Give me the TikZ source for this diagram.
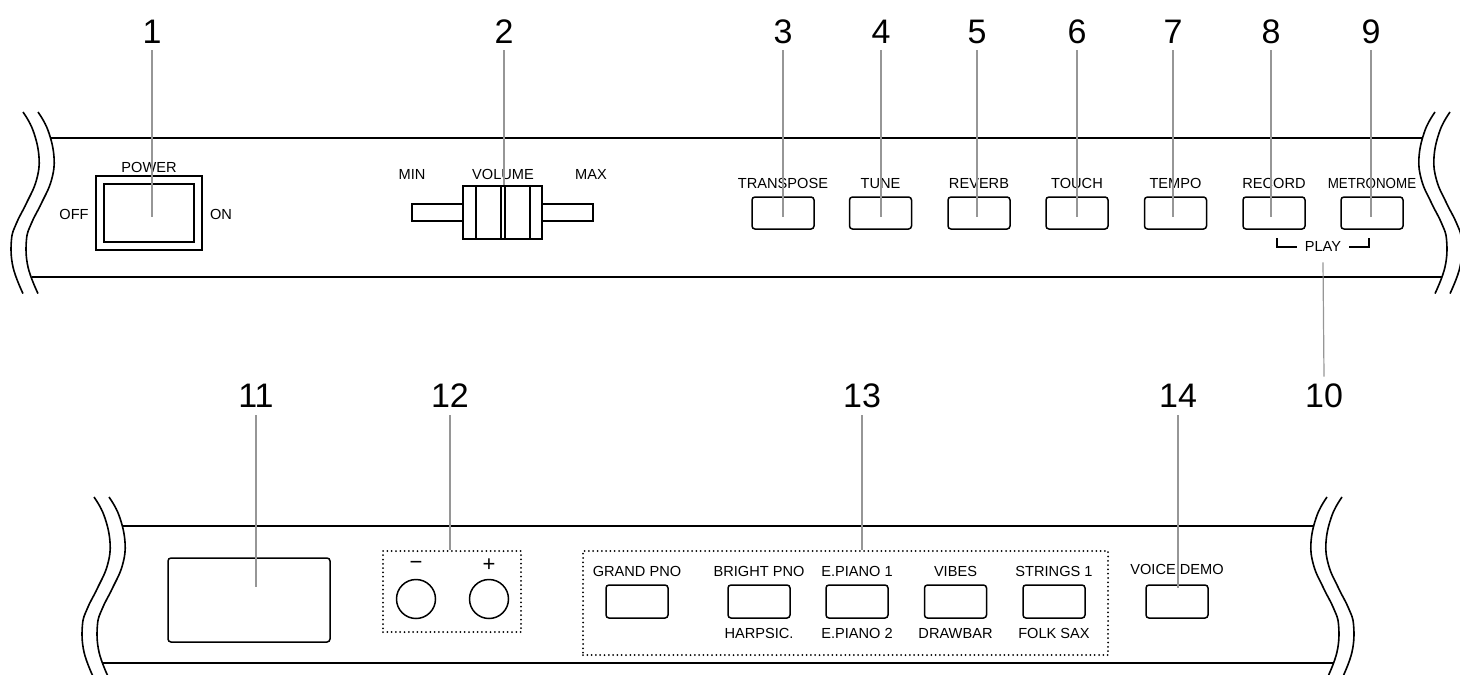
\documentclass[tikz,border=0pt]{standalone}
\usepackage{fontspec}
\setmainfont{Liberation Sans}
\usetikzlibrary{calc}
\definecolor{leadgray}{RGB}{150,150,150}
\begin{document}
\begin{tikzpicture}[x=1pt,y=-1pt,
  panel/.style={line width=1.9pt},
  wavestyle/.style={line width=1.6pt},
  btn/.style={draw, line width=1.5pt, rounded corners=3pt, minimum width=62pt, minimum height=33pt, inner sep=0pt},
  sqbox/.style={draw, line width=1.5pt, inner sep=0pt},
  lbl/.style={font=\fontsize{14.6}{16}\selectfont, inner sep=0pt, text height=10.4pt, text depth=0pt},
  pm/.style={font=\fontsize{22}{24}\selectfont, inner sep=0pt},
  num/.style={font=\fontsize{34}{38}\selectfont, inner sep=0pt, text height=24.3pt, text depth=0pt},
  lead/.style={draw=leadgray, line width=1.2pt},
  dotbox/.style={draw, line width=2pt, dash pattern=on 0pt off 4.3pt, line cap=round, inner sep=0pt},
  wavepair/.pic={
    \draw[wavestyle] plot[smooth,tension=0.7] coordinates {(0,0) (10,18.3) (16,45) (13.4,68.3) (3.4,91.3) (-6.6,111.3) (-11.6,128.3) (-10,155) (0,181.6)};
    \draw[wavestyle,shift={(15,0)}] plot[smooth,tension=0.7] coordinates {(0,0) (10,18.3) (16,45) (13.4,68.3) (3.4,91.3) (-6.6,111.3) (-11.6,128.3) (-10,155) (0,181.6)};
  }]
\useasboundingbox (0,0) rectangle (1460,675);

% ---------- top panel ----------
\pic (wTL) at (23,112) {wavepair};
\pic[xscale=-1] (wTR) at (1450,112) {wavepair};
\draw[panel] (50.5,138) -- (1422.5,138);
\draw[panel] (31.5,277) -- (1441.5,277);

% power switch
\node[sqbox, minimum width=106pt, minimum height=74pt] (pwr) at (149,213) {};
\node[sqbox, minimum width=90pt, minimum height=58pt] (pwrin) at (149,213) {};
\node[lbl] (lpower) at (149,167) {POWER};
\node[lbl] (loff) at (74,214) {OFF};
\node[lbl] (lon) at (221,214) {ON};

% volume slider
\node[sqbox, minimum width=51pt, minimum height=17pt] (trkL) at (437.5,212.5) {};
\node[sqbox, minimum width=51pt, minimum height=17pt] (trkR) at (567.5,212.5) {};
\node[sqbox, fill=white, minimum width=79pt, minimum height=53pt] (vol) at (502.5,212.5) {};
\node[sqbox, minimum width=54pt, minimum height=53pt] (volin) at (503,212.5) {};
\node[sqbox, minimum width=4pt, minimum height=53pt] (volmid) at (503,212.5) {};
\node[lbl] (lmin) at (412,174) {MIN};
\node[lbl] (lvol) at (503,174) {VOLUME};
\node[lbl] (lmax) at (591,174) {MAX};

% buttons
\node[btn, minimum height=32pt] (b3) at (783,213) {};
\node[btn, minimum height=32pt] (b4) at (880.5,213) {};
\node[btn, minimum height=32pt] (b5) at (979,213) {};
\node[btn, minimum height=32pt] (b6) at (1077,213) {};
\node[btn, minimum height=32pt] (b7) at (1175.5,213) {};
\node[btn, minimum height=32pt] (b8) at (1274,213) {};
\node[btn, minimum height=32pt] (b9) at (1372,213) {};
\node[lbl] (l3) at (783,183) {TRANSPOSE};
\node[lbl] (l4) at (880.5,183) {TUNE};
\node[lbl] (l5) at (979,183) {REVERB};
\node[lbl] (l6) at (1077,183) {TOUCH};
\node[lbl] (l7) at (1175.5,183) {TEMPO};
\node[lbl] (l8) at (1274,183) {RECORD};
\node[lbl] (l9) at (1372,183) {\scalebox{0.915}[1]{METRONOME}};

% PLAY bracket
\node[lbl] (play) at (1323,246) {PLAY};
\draw[line width=1.5pt] (1277,238) -- (1277,247) -- (1297,247);
\draw[line width=1.5pt] (1349,247) -- (1369,247) -- (1369,238);

% numbers top
\node[num] (n1) at (152,31) {1};
\node[num] (n2) at (504,31) {2};
\node[num] (n3) at (783,31) {3};
\node[num] (n4) at (881,31) {4};
\node[num] (n5) at (977,31) {5};
\node[num] (n6) at (1077,31) {6};
\node[num] (n7) at (1173,31) {7};
\node[num] (n8) at (1271,31) {8};
\node[num] (n9) at (1371,31) {9};
\node[num] (n10) at (1324,395) {10};

\draw[lead] ([yshift=-7pt]n1.south) -- ($(n1.south |- pwr.center)+(0,4)$);
\draw[lead] ([yshift=-7pt]n2.south) -- (n2.south |- vol.north);
\foreach \k in {3,...,9}{
  \draw[lead] ([yshift=-7pt]n\k.south) -- ($(n\k.south |- b\k.center)+(0,4)$);
}
\draw[lead] ([yshift=-11pt]play.south) -- ([yshift=6pt]n10.north);

% ---------- bottom panel ----------
\pic (wBL) at (94,497) {wavepair};
\pic[xscale=-1] (wBR) at (1342,497) {wavepair};
\draw[panel] (122,526) -- (1314,526);
\draw[panel] (102.8,663) -- (1333.2,663);

% display
\node[sqbox, rounded corners=3pt, minimum width=162pt, minimum height=84pt] (disp) at (249,600) {};

% +/- group
\node[dotbox, minimum width=138pt, minimum height=81pt] (box12) at (452,591.5) {};
\node[pm] (lminus) at (416,565) {−};
\node[pm] (lplus) at (489,565) {+};
\node[sqbox, circle, minimum size=39pt] (cminus) at (416,599) {};
\node[sqbox, circle, minimum size=39pt] (cplus) at (489,599) {};

% voice group
\node[dotbox, minimum width=525pt, minimum height=104pt] (box13) at (845.5,603) {};
\node[btn] (v1) at (637,601.5) {};
\node[btn] (v2) at (759,601.5) {};
\node[btn] (v3) at (857,601.5) {};
\node[btn] (v4) at (955.5,601.5) {};
\node[btn] (v5) at (1054,601.5) {};
\node[lbl] (v1t) at (637,571) {GRAND PNO};
\node[lbl] (v2t) at (759,571) {BRIGHT PNO};
\node[lbl] (v3t) at (857,571) {E.PIANO 1};
\node[lbl] (v4t) at (955.5,571) {VIBES};
\node[lbl] (v5t) at (1054,571) {STRINGS 1};
\node[lbl] (v2b) at (759,633) {HARPSIC.};
\node[lbl] (v3b) at (857,633) {E.PIANO 2};
\node[lbl] (v4b) at (955.5,633) {DRAWBAR};
\node[lbl] (v5b) at (1054,633) {FOLK SAX};

% voice demo
\node[btn] (vd) at (1177,601.5) {};
\node[lbl] (vdt) at (1177,569) {VOICE DEMO};

% numbers bottom
\node[num] (n11) at (256,395) {11};
\node[num] (n12) at (450,395) {12};
\node[num] (n13) at (862,395) {13};
\node[num] (n14) at (1178,395) {14};

\draw[lead] ([yshift=-8pt]n11.south) -- ($(n11.south |- disp.center)+(0,-13)$);
\draw[lead] ([yshift=-8pt]n12.south) -- (n12.south |- box12.north);
\draw[lead] ([yshift=-8pt]n13.south) -- (n13.south |- box13.north);
\draw[lead] ([yshift=-8pt]n14.south) -- ($(n14.south |- vd.center)+(0,-14)$);
\end{tikzpicture}
\end{document}
